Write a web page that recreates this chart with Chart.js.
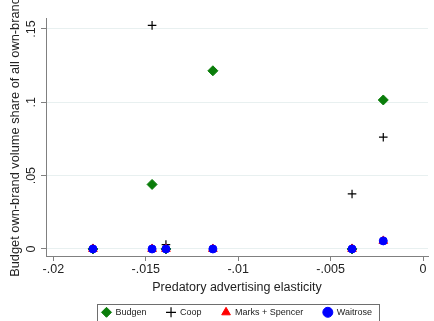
<!DOCTYPE html>
<html>
<head>
<meta charset="utf-8">
<script src="https://cdn.jsdelivr.net/npm/chart.js@4/dist/chart.umd.min.js"></script>
<style>
  html, body { margin: 0; padding: 0; background: #ffffff; }
  canvas { display: block; }
</style>
</head>
<body>
<canvas id="chart" width="434" height="321"></canvas>
<script>
// Predatory advertising elasticity for each market (x values)
const elasticity = [-0.01786, -0.01466, -0.01391, -0.01137, -0.00384, -0.00215];

// Budget own-brand volume share, one array per retailer
const budgen = [0, 0.044, 0, 0.1215, 0, 0.1016];
const coop = [null, 0.1525, 0.003, null, 0.0375, 0.0762];
const marksSpencer = [0, 0, 0, 0, 0, 0.0055];
const waitrose = [0, 0, 0, 0, 0, 0.0055];

// Axis ticks and their printed labels
const xTicks = [-0.02, -0.015, -0.01, -0.005, 0];
const xTickLabels = ['-.02', '-.015', '-.01', '-.005', '0'];
const yTicks = [0, 0.05, 0.1, 0.15];
const yTickLabels = ['0', '.05', '.1', '.15'];

const xTitle = 'Predatory advertising elasticity';
const yTitle = 'Budget own-brand volume share of all own-brand';

const FONT = "'Liberation Sans', Arial, sans-serif";
const TEXT = '#222222';
const AXIS = '#808080';

function pairs(ys) {
  return elasticity.map((x, i) => ({ x: x, y: ys[i] }));
}

// Border around the legend row
const legendFrame = {
  id: 'legendFrame',
  afterDraw(chart) {
    const lg = chart.legend;
    if (!lg || !lg.lineWidths) return;
    const pad = lg.options.labels.padding;
    const rowW = lg.lineWidths[0];
    const start = (lg.left + pad + lg.right - rowW) / 2;
    const end = start + rowW - pad;
    const top = lg.top + pad + 4.5 - 8.5;
    const ctx = chart.ctx;
    ctx.save();
    ctx.strokeStyle = '#6e6e6e';
    ctx.lineWidth = 1;
    ctx.strokeRect(Math.round(start - 5.5) + 0.5, Math.round(top) + 0.5,
                   Math.round(end - start + 12), 40);
    ctx.restore();
  }
};

new Chart(document.getElementById('chart'), {
  type: 'scatter',
  data: {
    datasets: [
      {
        label: 'Budgen', data: pairs(budgen), order: 4,
        pointStyle: 'rectRot', pointRadius: 5, borderWidth: 1,
        backgroundColor: '#0a7d0a', borderColor: '#0a7d0a'
      },
      {
        label: 'Coop', data: pairs(coop), order: 3,
        pointStyle: 'cross', pointRadius: 4.3, borderWidth: 1.2,
        backgroundColor: '#000000', borderColor: '#000000'
      },
      {
        label: 'Marks + Spencer', data: pairs(marksSpencer), order: 2,
        pointStyle: 'triangle', pointRadius: 5, borderWidth: 1,
        backgroundColor: '#ff0000', borderColor: '#ff0000'
      },
      {
        label: 'Waitrose', data: pairs(waitrose), order: 1,
        pointStyle: 'circle', pointRadius: 4, borderWidth: 1,
        backgroundColor: '#0000ff', borderColor: '#0000ff'
      }
    ]
  },
  options: {
    responsive: false,
    animation: false,
    devicePixelRatio: 1,
    layout: { padding: { top: 18, right: 1, bottom: -5.8, left: 0 } },
    plugins: {
      tooltip: { enabled: false },
      legend: {
        position: 'bottom',
        fullSize: false,
        labels: {
          usePointStyle: true,
          boxHeight: 7.07,
          padding: 20,
          color: TEXT,
          font: { family: FONT, size: 9 },
          sort: (a, b) => a.datasetIndex - b.datasetIndex
        }
      }
    },
    scales: {
      x: {
        type: 'linear',
        min: -0.0204,
        max: 0.00027,
        afterBuildTicks: s => { s.ticks = xTicks.map(v => ({ value: v })); },
        afterFit: s => { s.height = 31.8; },
        ticks: {
          autoSkip: false, maxRotation: 0, padding: 1,
          color: TEXT, font: { family: FONT, size: 12.5 },
          callback: (v, i) => xTickLabels[i]
        },
        grid: { drawOnChartArea: false, drawTicks: true, tickLength: 5, color: AXIS, tickColor: AXIS },
        border: { display: true, color: AXIS, width: 1 },
        title: {
          display: true, text: xTitle, color: TEXT,
          font: { family: FONT, size: 12.5 },
          padding: { top: 0, bottom: -7.7 }
        }
      },
      y: {
        type: 'linear',
        min: -0.0048,
        max: 0.1575,
        afterBuildTicks: s => { s.ticks = yTicks.map(v => ({ value: v })); },
        afterFit: s => { s.width = 46; },
        ticks: {
          minRotation: 90, maxRotation: 90, crossAlign: 'center', padding: 1,
          color: TEXT, font: { family: FONT, size: 12.5 },
          callback: (v, i) => yTickLabels[i]
        },
        grid: { color: '#e8f0f0', tickColor: AXIS, tickLength: 5, drawTicks: true },
        border: { display: true, color: AXIS, width: 1 },
        title: {
          display: true, text: yTitle, color: TEXT,
          font: { family: FONT, size: 12.8 },
          padding: { top: 7.4, bottom: 0 }
        }
      }
    }
  },
  plugins: [legendFrame]
});
</script>
</body>
</html>
